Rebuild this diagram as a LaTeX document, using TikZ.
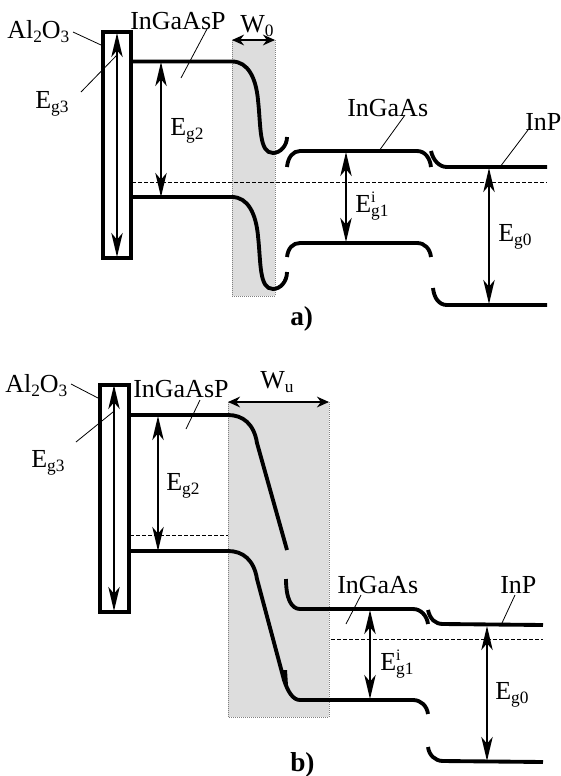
\documentclass[tikz,border=0pt]{standalone}
\usepackage{fontspec}
\setmainfont{Liberation Serif}
\usetikzlibrary{arrows.meta}
\definecolor{wellgray}{gray}{0.865}
\tikzset{
  band/.style={line width=2.9pt},
  oxide/.style={line width=3pt},
  gap/.style={line width=1.8pt,{Stealth[length=18pt,width=8.5pt,inset=5pt]}-{Stealth[length=18pt,width=8.5pt,inset=5pt]}},
  width/.style={line width=2pt,{Stealth[length=9pt,width=8pt]}-{Stealth[length=9pt,width=8pt]}},
  leader/.style={line width=.6pt},
  fermi/.style={line width=.7pt,dash pattern=on 3pt off 1.5pt},
  well/.style={fill=wellgray,draw=gray,line width=.5pt,densely dotted},
  lbl/.style={anchor=base west,inner sep=0pt,font=\fontsize{19.5}{21}\selectfont},
  tag/.style={anchor=base west,inner sep=0pt,font=\fontsize{20.5}{22}\selectfont\bfseries}
}
\newcommand{\sub}[1]{\raisebox{-3.5pt}{\fontsize{13}{13}\selectfont #1}}
\newcommand{\sups}[1]{\rlap{\raisebox{7.5pt}{\fontsize{12}{12}\selectfont #1}}}
\begin{document}
\begin{tikzpicture}[x=.75pt,y=-.75pt]
  \useasboundingbox (0,0) rectangle (561,776);
  % a)
  \draw[well] (232,40) rectangle (275,296);
  \coordinate (Ra) at (132,61.5); \coordinate (Rb) at (132,197);
  \draw[band] (Ra)--(232,61.5) .. controls (248,61.5) and (256,78) .. (258,100)
    .. controls (261,127) and (259,153) .. (273,153) .. controls (280,153) and (287,146) .. (287,137);
  \draw[band] (Rb)--(232,197) .. controls (248,197) and (256,214) .. (258,236)
    .. controls (261,263) and (259,289) .. (273,289) .. controls (280,289) and (287,282) .. (287,272);
  \draw[band] (287,167) .. controls (288,157) and (293,151) .. (300,151)--(417,151)
    .. controls (425,151) and (430,158) .. (431,167);
  \draw[band] (287,257) .. controls (288,248) and (293,243) .. (300,243)--(417,243)
    .. controls (425,243) and (430,249) .. (431,257);
  \draw[band] (431,151) .. controls (433,160) and (439,167) .. (447,167)--(547,167);
  \draw[band] (433,288) .. controls (434,298) and (439,305) .. (447,305)--(547,305);
  \draw[oxide] (103,32) rectangle (130.5,257.5);
  \draw[fermi] (132,182.5)--(547,182.5);
  \coordinate (Wa) at (232,40); \coordinate (Wb) at (275,40);
  \draw[width] (Wa)--(Wb);
  \foreach \x/\u/\v in {117/33/257, 161/62/197, 346/152/242, 489/168/304}
    \draw[gap] (\x,\u)--(\x,\v);
  \foreach \a/\b/\c/\d in {73/32/101/45, 81/92/117/55, 207/29/181/78, 405/115/379/151, 528/130/500/167}
    \draw[leader] (\a,\b)--(\c,\d);
  % b)
  \draw[well] (228,402) rectangle (329,717);
  \coordinate (Rc) at (130,415); \coordinate (Rd) at (130,551);
  \draw[band] (Rc)--(228,415) .. controls (243,415) and (254,424) .. (257,443)--(287,550);
  \draw[band] (Rd)--(228,551) .. controls (243,551) and (254,560) .. (257,579)--(284,680)
    .. controls (288,692) and (293,700) .. (300,700)--(413,700)
    .. controls (421,700) and (427,706) .. (428,714);
  \fill (283,670)--(287,670)--(288,686)--(285,686)--cycle;
  \draw[band] (286,579) .. controls (286,598) and (291,609) .. (300,609)--(413,609)
    .. controls (421,609) and (427,616) .. (428,624);
  \draw[band] (428,610) .. controls (430,619) and (435,624) .. (443,624)--(543,625);
  \draw[band] (428,747) .. controls (429,755) and (435,761) .. (443,761)--(543,762);
  \draw[oxide] (99.5,385) rectangle (128.5,612);
  \draw[fermi] (130,535)--(228,535);
  \draw[fermi] (331,639)--(543,639);
  \coordinate (Wc) at (228,402); \coordinate (Wd) at (329,402);
  \draw[width] (Wc)--(Wd);
  \foreach \x/\u/\v in {114/385/611, 158/416/551, 370/610/699, 487/626/761}
    \draw[gap] (\x,\u)--(\x,\v);
  \foreach \a/\b/\c/\d in {71/384/98/398, 76/442/113/412, 200/400/186/429, 361/595/346/624, 515/595/502/623}
    \draw[leader] (\a,\b)--(\c,\d);
  % labels
  \foreach \n/\x/\y/\t in {
    alA/7/38/Al\sub{2}O\sub{3}, quatA/130/29/InGaAsP, wA/240/32/W\sub{0},
    gthreeA/35/108/E\sub{g3}, gtwoA/170/135/E\sub{g2}, ternA/347/116/InGaAs,
    inpA/525/130/InP, goneA/355/212/E\sups{i}\sub{g1}, gzeroA/498/241/E\sub{g0},
    alB/5/392/Al\sub{2}O\sub{3}, quatB/133/397/InGaAsP, wB/260/388/W\sub{u},
    gthreeB/31/467/E\sub{g3}, gtwoB/166/490/E\sub{g2}, ternB/337/593/InGaAs,
    inpB/500/593/InP, goneB/380/670/E\sups{i}\sub{g1}, gzeroB/495/699/E\sub{g0}}
    \node[lbl] (\n) at (\x,\y) {\t};
  \node[tag] (tagA) at (290,325) {a)};
  \node[tag] (tagB) at (290,771) {b)};
\end{tikzpicture}
\end{document}
